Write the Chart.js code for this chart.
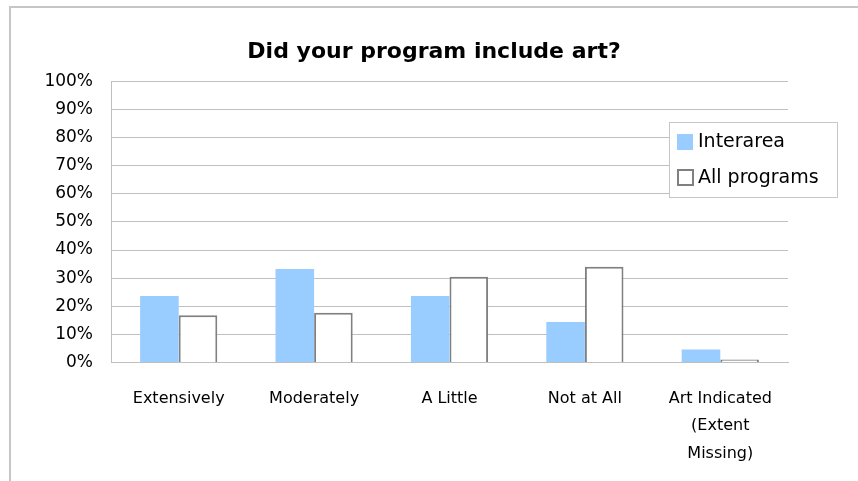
<!DOCTYPE html>
<html>
<head>
<meta charset="utf-8">
<script src="https://cdn.jsdelivr.net/npm/chart.js@4/dist/chart.umd.min.js"></script>
<style>
  html, body { margin: 0; padding: 0; background: #fff; }
  #wrap { width: 858px; height: 481px; }
</style>
</head>
<body>
<div id="wrap"><canvas id="art-chart" width="858" height="481"></canvas></div>
<script>
var categories = [
  'Extensively',
  'Moderately',
  'A Little',
  'Not at All',
  ['Art Indicated', '(Extent', 'Missing)']
]
var interarea = [23.6, 33.2, 23.6, 14.4, 4.6]
var allPrograms = [16.8, 17.7, 30.5, 34.0, 1.0]
var tickValues = [0, 10, 20, 30, 40, 50, 60, 70, 80, 90, 100]

var font = 'DejaVu Sans, Verdana, sans-serif'

// light gray frame round the whole chart (open at right/bottom like the source)
var framePlugin = {
  id: 'frame',
  beforeDraw: function (chart) {
    var c = chart.ctx
    c.save()
    c.fillStyle = '#fff'
    c.fillRect(0, 0, chart.width, chart.height)
    c.strokeStyle = '#c6c6c6'
    c.lineWidth = 2
    c.strokeRect(10, 7, chart.width + 20, chart.height + 20)
    c.restore()
  }
}

// floating boxed legend over the plot
var boxLegend = {
  id: 'boxLegend',
  afterDraw: function (chart) {
    var c = chart.ctx
    var x = 669, y = 122, w = 168, h = 75
    c.save()
    c.fillStyle = '#fff'
    c.fillRect(x, y, w, h)
    c.strokeStyle = '#c6c6c6'
    c.lineWidth = 1
    c.strokeRect(x + 0.5, y + 0.5, w, h)
    c.font = '19px ' + font
    c.textBaseline = 'middle'
    chart.data.datasets.forEach(function (ds, i) {
      var ry = y + 20 + i * 36
      if (ds.borderWidth) {
        c.fillStyle = ds.backgroundColor
        c.fillRect(x + 9, ry - 8, 15, 15)
        c.strokeStyle = ds.borderColor
        c.lineWidth = 2
        c.strokeRect(x + 9, ry - 8, 15, 15)
      } else {
        c.fillStyle = ds.backgroundColor
        c.fillRect(x + 8, ry - 8, 16, 16)
      }
      c.fillStyle = '#000'
      c.fillText(ds.label, x + 29, ry)
    })
    c.restore()
  }
}

var ctx = document.getElementById('art-chart')

var artChart = new Chart(ctx, {
  type: 'bar',
  data: {
    labels: categories,
    datasets: [
      {
        label: 'Interarea',
        data: interarea,
        backgroundColor: '#99ccff',
        borderWidth: 0
      },
      {
        label: 'All programs',
        data: allPrograms,
        backgroundColor: '#ffffff',
        borderColor: '#808080',
        borderWidth: 2
      }
    ]
  },
  options: {
    responsive: false,
    animation: false,
    layout: { padding: { left: 20, right: 10, top: 35, bottom: -9 } },
    plugins: {
      legend: { display: false },
      tooltip: { enabled: false },
      title: {
        display: true,
        text: 'Did your program include art?',
        color: '#000',
        font: { family: font, size: 22, weight: 'bold' },
        padding: { top: 4, bottom: 16 }
      }
    },
    datasets: {
      bar: { categoryPercentage: 0.57, barPercentage: 1 }
    },
    scales: {
      x: {
        grid: { display: false, drawTicks: false },
        border: { color: '#bfbfbf', width: 1 },
        ticks: {
          color: '#000',
          maxRotation: 0,
          autoSkip: false,
          padding: 23,
          font: { family: font, size: 16, lineHeight: 1.7 }
        }
      },
      y: {
        min: 0,
        max: 100,
        afterBuildTicks: function (axis) {
          axis.ticks = tickValues.map(function (v) { return { value: v } })
        },
        afterFit: function (axis) { axis.width = 91 },
        grid: { color: '#c0c0c0', drawTicks: false },
        border: { color: '#bfbfbf', width: 1 },
        ticks: {
          color: '#000',
          padding: 18,
          font: { family: font, size: 17 },
          callback: function (v) { return v + '%' }
        }
      },
      // empty spacer on the right so the plot ends where the source's does
      spacer: {
        type: 'linear',
        position: 'right',
        grid: { display: false, drawTicks: false },
        border: { display: false },
        ticks: { display: false },
        afterFit: function (axis) { axis.width = 60 }
      }
    }
  },
  plugins: [framePlugin, boxLegend]
})
</script>
</body>
</html>
